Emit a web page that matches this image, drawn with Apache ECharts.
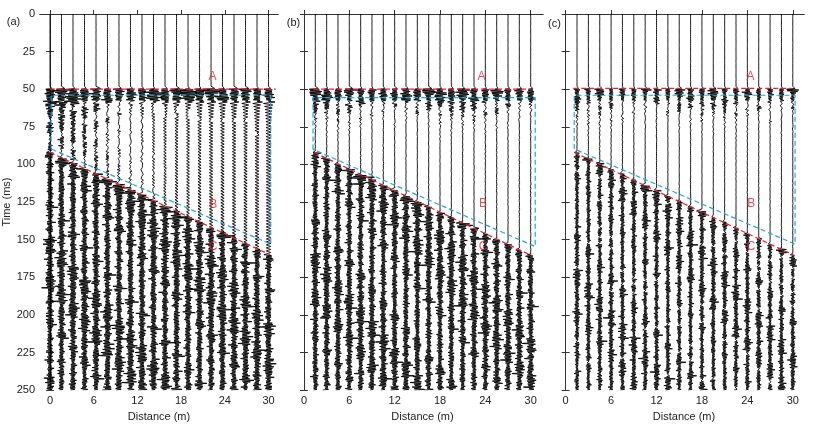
<!DOCTYPE html>
<html>
<head>
<meta charset="utf-8">
<script src="https://cdn.jsdelivr.net/npm/echarts@6/dist/echarts.min.js"></script>
<style>
  html, body { margin: 0; padding: 0; background: #fff; }
  #chart { width: 817px; height: 427px; }
</style>
</head>
<body>
<div id="chart"></div>
<script>
// axes
const timeTicks = [0, 25, 50, 75, 100, 125, 150, 175, 200, 225, 250];
const distTicks = [0, 6, 12, 18, 24, 30];
const panelNames = ['(a)', '(b)', '(c)'];
const labelNames = ['A', 'B', 'C'];

// trace positions (m)
const traceXA = [0, 1.58, 3.16, 4.74, 6.32, 7.89, 9.47, 11.05, 12.63, 14.21, 15.79, 17.37, 18.95, 20.53, 22.11, 23.68, 25.26, 26.84, 28.42, 30];
const traceXBC = [1.5, 3, 4.5, 6, 7.5, 9, 10.5, 12, 13.5, 15, 16.5, 18, 19.5, 21, 22.5, 24, 25.5, 27, 28.5, 30];

// onset of the strong late arrivals per trace (ms)
const onsetA = [92, 96, 99, 103, 106, 110, 113, 117, 120, 124, 128, 131, 135, 138, 142, 145, 149, 153, 156, 160];
const onsetB = [92, 96, 100, 103, 107, 110, 114, 117, 121, 125, 128, 132, 135, 139, 142, 146, 150, 153, 157, 160];
const onsetC = [92, 96, 99, 103, 106, 110, 114, 117, 121, 124, 128, 131, 135, 138, 142, 146, 149, 153, 156, 160];

// amplitude envelope before the late arrivals (time knots in ms, amplitude in m)
const envTimeA = [0, 49, 50, 53, 57, 60, 64, 72, 90, 250];
const envAmpA = [0.015, 0.015, 1.3, 1.35, 1.1, 0.55, 0.42, 0.32, 0.28, 0.28];
const envTimeB = [0, 49, 50, 52, 56, 60, 66, 75, 85, 250];
const envAmpB = [0.01, 0.01, 1.0, 1.05, 0.85, 0.55, 0.32, 0.12, 0.05, 0.05];
const envTimeC = [0, 49, 50, 52, 55, 60, 66, 75, 85, 250];
const envAmpC = [0.01, 0.01, 0.85, 0.75, 0.55, 0.42, 0.26, 0.1, 0.04, 0.04];

// panel (a): gain and share of regular zigzag in the 60 ms .. onset zone
const midGainA = [1.6, 1.6, 1.5, 1.3, 1.2, 1.1, 1.0, 0.9, 0.85, 0.85, 0.85, 0.85, 0.85, 0.85, 0.9, 0.9, 0.9, 0.9, 1.0, 1.2];
const zigShareA = [0, 0, 0, 0, 0, 0.1, 0.2, 0.4, 0.6, 0.7, 0.8, 0.9, 0.9, 1, 1, 1, 1, 1, 1, 1];
const ones = [1, 1, 1, 1, 1, 1, 1, 1, 1, 1, 1, 1, 1, 1, 1, 1, 1, 1, 1, 1];
const zeros = [0, 0, 0, 0, 0, 0, 0, 0, 0, 0, 0, 0, 0, 0, 0, 0, 0, 0, 0, 0];
// half width of the dense late-arrival columns (m)
const denseAmp = [0.5, 0.44, 0.32];

// wiggle shapes
const wigA = [0.2, -0.9, 0.7, -0.3, 1.0, -0.6, 0.1, -0.8, 0.9, -0.4, 0.5, -1.0, 0.6, -0.2, 0.8, -0.7, 0.3, -0.5, 0.9, -0.9, 0.4, -0.1, 0.6];
const wigB = [-0.5, 0.8, -0.2, 0.6, -0.9, 0.3, -0.7, 1.0, -0.4, 0.2, -0.6, 0.9, -0.8, 0.5, -0.3, 0.7, -1.0, 0.4, -0.1, 0.8, -0.6, 0.2, -0.9, 0.6, -0.4, 1.0, -0.7, 0.3, -0.2];
const burst = [0.5, 0.9, 0.6, 0.35, 0.8, 1.0, 0.45, 0.7, 0.3, 0.95, 0.55, 0.75, 0.4, 1.0, 0.6, 0.3, 0.85, 0.5, 0.7];
const burst2 = [0.6, 1.0, 0.4, 0.8, 0.5, 0.9, 0.3, 0.7, 1.0, 0.45, 0.65, 0.85, 0.35];
const zig = [0, 1, 0, -1];

// interpretation lines (distance m, time ms)
const redTopA = [[0, 50], [31, 50]];
const redSlopeA = [[0, 92], [30.2, 160]];
const blueBoxA = [[0.15, 89.7], [0.15, 54], [30.3, 54], [30.3, 153], [0.15, 89.7]];
const labelPosA = [[22.3, 42], [22.4, 126.5], [22.4, 155]];

const redTopB = [[1.2, 50], [30.1, 50]];
const redSlopeB = [[1.36, 92], [30.3, 161]];
const blueBoxB = [[1.2, 90], [1.2, 55.6], [30.6, 55.6], [30.6, 154.6], [1.2, 90]];
const labelPosB = [[23.5, 42], [23.7, 126], [23.7, 155]];

const redTopC = [[1.0, 49.5], [29.8, 49.5]];
const redSlopeC = [[1.13, 92], [30.2, 160.5]];
const blueBoxC = [[1.13, 89.7], [1.13, 54], [30.3, 54], [30.3, 153], [1.13, 89.7]];
const labelPosC = [[24.4, 42], [24.5, 126], [24.5, 155]];

const panels = [
  { id: 0, xs: traceXA, onset: onsetA, envT: envTimeA, envV: envAmpA, midGain: midGainA, zigShare: zigShareA, dense: denseAmp[0],
    redTop: redTopA, redSlope: redSlopeA, blue: blueBoxA, labels: labelPosA, xMin: -1.37, xMax: 31.3 },
  { id: 1, xs: traceXBC, onset: onsetB, envT: envTimeB, envV: envAmpB, midGain: ones, zigShare: zeros, dense: denseAmp[1],
    redTop: redTopB, redSlope: redSlopeB, blue: blueBoxB, labels: labelPosB, xMin: -0.26, xMax: 31.63 },
  { id: 2, xs: traceXBC, onset: onsetC, envT: envTimeC, envV: envAmpC, midGain: ones, zigShare: zeros, dense: denseAmp[2],
    redTop: redTopC, redSlope: redSlopeC, blue: blueBoxC, labels: labelPosC, xMin: -0.22, xMax: 31.48 }
];

function envAt(times, amps, t) {
  for (let j = 1; j < times.length; j++) {
    if (t <= times[j]) {
      const f = (t - times[j - 1]) / (times[j] - times[j - 1]);
      return amps[j - 1] + f * (amps[j] - amps[j - 1]);
    }
  }
  return amps[amps.length - 1];
}

function buildTrace(p, k) {
  const pts = [];
  const x0 = p.xs[k], on = p.onset[k];
  const sa = 5 * k + 3 * p.id, sb = 11 * k + 7 * p.id, sc = 3 * k + 5 * p.id, sd = 7 * k + 2 * p.id;
  for (let i = 0; i <= 500; i++) {
    const t = i * 0.5;
    const wb = wigB[(i + sb) % 29];
    const w = 0.6 * wigA[(i + sa) % 23] + 0.4 * wb;
    const b = 0.5 * (burst[(Math.floor(i / 3) + sc) % 19] + burst2[(Math.floor(i / 5) + sd) % 13]);
    const alt = i % 2 ? 1 : -1;
    let v;
    if (t >= on) {
      const first = t - on < 4 ? 1.5 : 1;
      const spike = Math.abs(wb) === 1 ? 1.6 : 1;
      v = p.dense * first * spike * (alt * (0.45 + 0.7 * Math.abs(w)) + 0.3 * w) * (0.6 + 0.9 * b * b);
    } else if (t < 49.5) {
      v = 0.012 * w;
    } else if (t < 58) {
      const a = envAt(p.envT, p.envV, t);
      v = a * (alt * (0.35 + 0.5 * Math.abs(w)) + 0.3 * w) * (0.5 + 0.6 * b);
    } else {
      const a = envAt(p.envT, p.envV, t) * p.midGain[k];
      const z = p.zigShare[k];
      v = a * (z * 0.9 * zig[i % 4] + (1 - z) * w * (0.4 + 0.8 * b));
    }
    pts.push([x0 + v, t]);
  }
  return pts;
}

const chart = echarts.init(document.getElementById('chart'), null, { renderer: 'canvas' });
const FONT = 'Liberation Sans';
const TXT = '#222';
const RED = '#e62330';
const BLUE = '#2aa3dc';

const grids = [
  { left: 40, top: 14, width: 238, height: 379 },
  { left: 302, top: 14, width: 241, height: 379 },
  { left: 564, top: 14, width: 240, height: 379 }
];

const xAxes = [], yAxes = [], series = [], graphics = [];
panels.forEach(function (p, g) {
  xAxes.push({
    type: 'value', gridIndex: g, min: p.xMin, max: p.xMax, position: 'bottom',
    name: 'Distance (m)', nameLocation: 'middle', nameGap: 20,
    nameTextStyle: { color: TXT, fontFamily: FONT, fontSize: 11 },
    axisLine: { lineStyle: { color: '#333', width: 1 } },
    axisTick: { inside: true, length: 4, customValues: distTicks, lineStyle: { color: '#333' } },
    axisLabel: { customValues: distTicks, color: TXT, fontFamily: FONT, fontSize: 11, margin: 5 },
    splitLine: { show: false }
  });
  xAxes.push({
    type: 'value', gridIndex: g, min: p.xMin, max: p.xMax, position: 'top',
    axisLine: { lineStyle: { color: '#333', width: 1 } },
    axisTick: { show: false }, axisLabel: { show: false }, splitLine: { show: false }
  });
  yAxes.push({
    type: 'value', gridIndex: g, min: 0, max: 250, interval: 25, inverse: true, position: 'left',
    name: g === 0 ? 'Time (ms)' : '', nameLocation: 'middle', nameGap: 28,
    nameTextStyle: { color: TXT, fontFamily: FONT, fontSize: 11 },
    axisLine: { show: true, lineStyle: { color: '#333', width: 1 } },
    axisTick: { inside: true, length: 4, lineStyle: { color: '#333' } },
    axisLabel: { show: g === 0, color: TXT, fontFamily: FONT, fontSize: 11, margin: 5 },
    splitLine: { show: false }
  });
  yAxes.push({
    type: 'value', gridIndex: g, min: 0, max: 250, interval: 25, inverse: true, position: 'right',
    axisLine: { show: true, lineStyle: { color: '#333', width: 1 } },
    axisTick: { inside: true, length: 4, lineStyle: { color: '#333' } },
    axisLabel: { show: false }, splitLine: { show: false }
  });
  const xi = 2 * g, yi = 2 * g;
  p.xs.forEach(function (_, k) {
    series.push({
      type: 'line', xAxisIndex: xi, yAxisIndex: yi, data: buildTrace(p, k),
      showSymbol: false, silent: true, animation: false,
      lineStyle: { color: '#000', width: 0.9 }
    });
  });
  [[p.blue, BLUE], [p.redTop, RED], [p.redSlope, RED]].forEach(function (d) {
    series.push({
      type: 'line', xAxisIndex: xi, yAxisIndex: yi, data: d[0],
      showSymbol: false, silent: true, animation: false, z: 5,
      lineStyle: { color: d[1], width: 1.2, type: [5, 3] }
    });
  });
  series.push({
    type: 'scatter', xAxisIndex: xi, yAxisIndex: yi, symbolSize: 0, z: 6, animation: false,
    data: p.labels.map(function (pos, j) { return { value: pos, name: labelNames[j] }; }),
    label: { show: true, position: 'inside', formatter: '{b}', color: RED, fontFamily: FONT, fontSize: 12 }
  });
});

const panelLabelPos = [[13.5, 22], [293.5, 23], [554.5, 24]];
panelNames.forEach(function (n, g) {
  graphics.push({
    type: 'text', x: panelLabelPos[g][0], y: panelLabelPos[g][1],
    style: { text: n, fill: TXT, font: '11px "Liberation Sans"', textAlign: 'center', textVerticalAlign: 'middle' }
  });
});

chart.setOption({
  backgroundColor: '#fff',
  animation: false,
  grid: grids,
  xAxis: xAxes,
  yAxis: yAxes,
  series: series,
  graphic: graphics
});
</script>
</body>
</html>
